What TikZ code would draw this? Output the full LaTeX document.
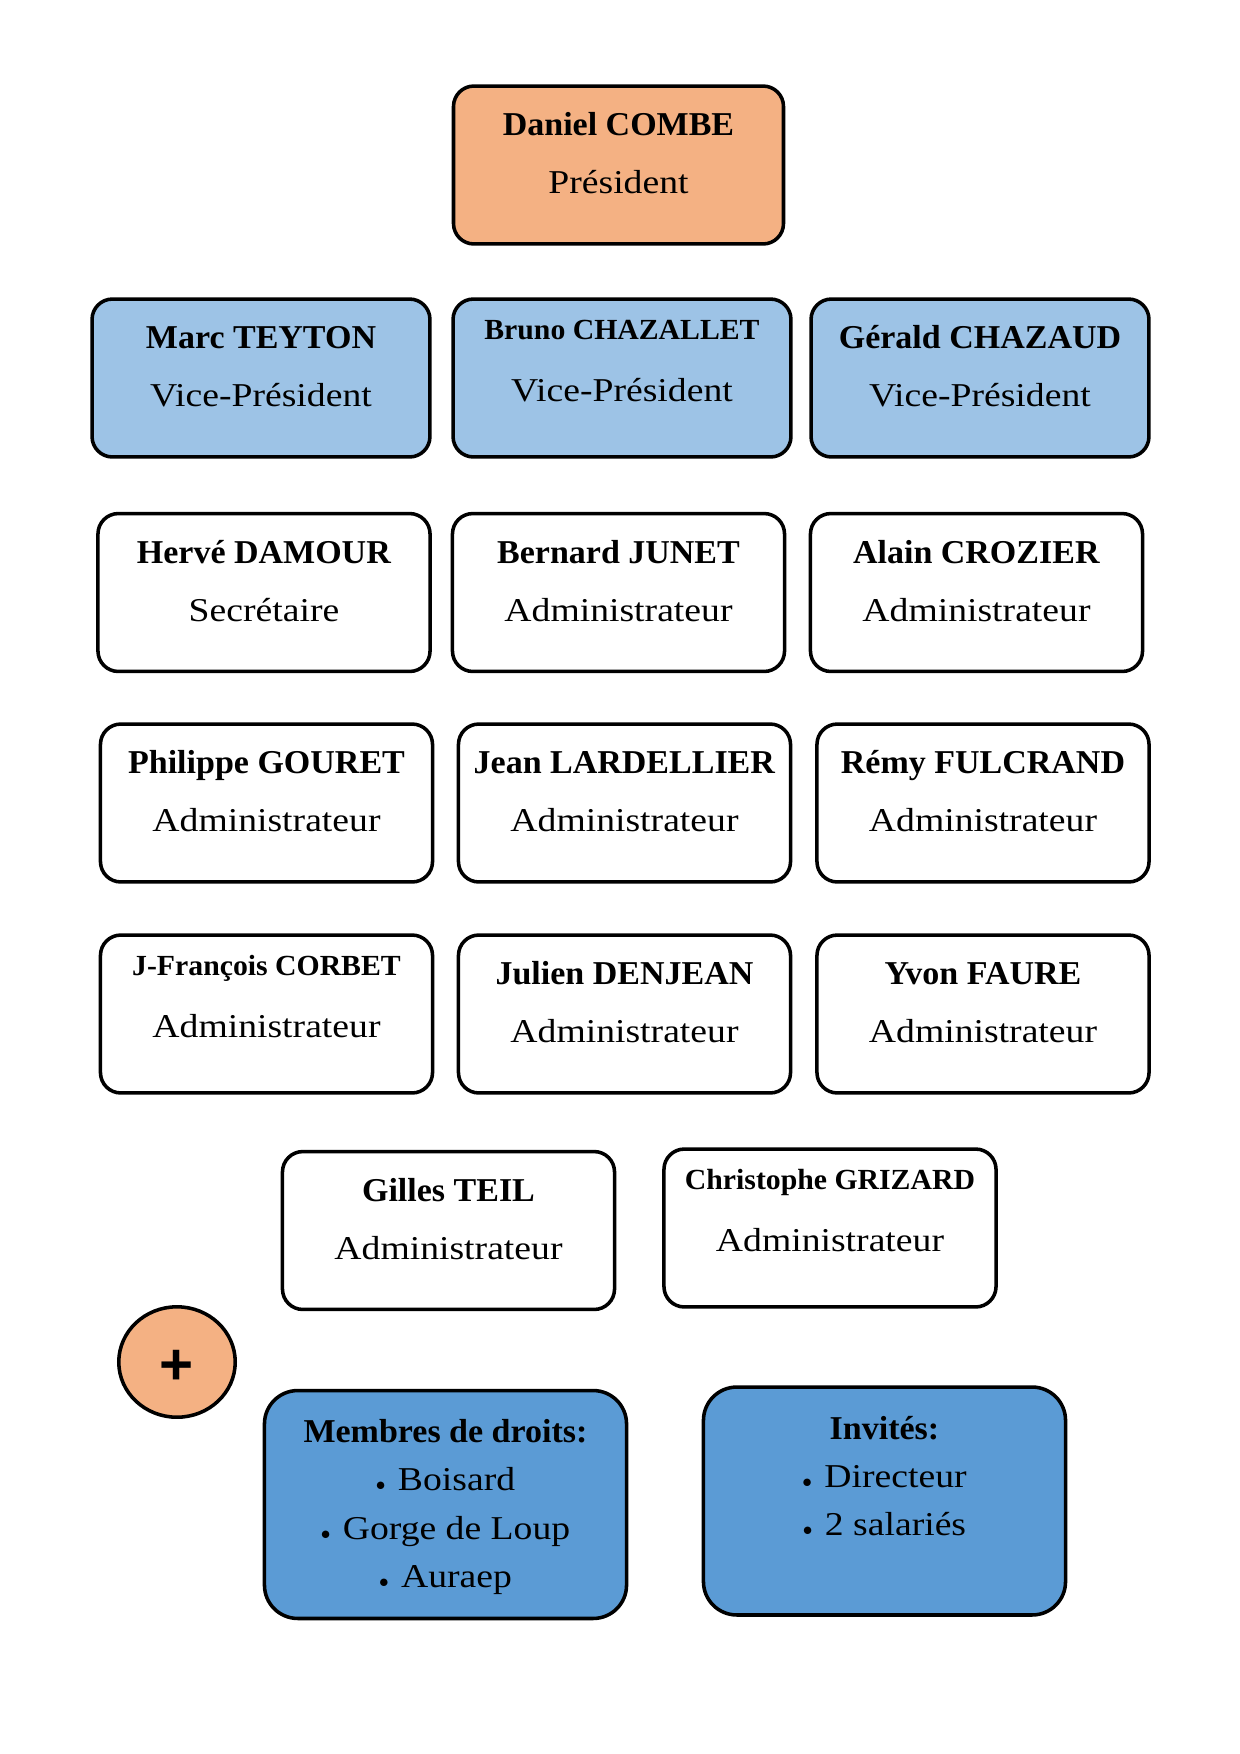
\documentclass[tikz,border=0pt]{standalone}
\usepackage{fontspec}
\setmainfont{Liberation Serif}[FakeStretch=1.13,BoldFeatures={FakeStretch=1.02}]
\newfontfamily\croix{Liberation Sans}
\usetikzlibrary{shapes.geometric}

\definecolor{orangeclair}{HTML}{F4B183}
\definecolor{bleuclair}{HTML}{9DC3E6}
\definecolor{bleumoyen}{HTML}{5B9BD5}

\tikzstyle{fiche} = [draw,line width=1.7pt,rounded corners=9.8pt,inner sep=0pt]
\tikzstyle{president} = [fiche,fill=orangeclair]
\tikzstyle{vice} = [fiche,fill=bleuclair]
\tikzstyle{admin} = [fiche,fill=white]
\tikzstyle{groupe} = [draw,line width=1.7pt,rounded corners=16pt,fill=bleumoyen,inner sep=0pt]
\tikzstyle{bouton} = [draw,line width=1.7pt,ellipse,fill=orangeclair,minimum width=55.9pt,minimum height=53pt,inner sep=0pt]

% carte : largeur, nom, fonction
\newcommand{\fiche}[3]{\parbox[c][75.8pt][t]{#1}{\centering\fontsize{16pt}{27.8pt}\selectfont
 \rule{0pt}{23.8pt}\textbf{#2}\par #3\par}}
\newcommand{\fichepetite}[3]{\parbox[c][75.8pt][t]{#1}{\centering
 {\fontsize{14pt}{17pt}\selectfont\rule{0pt}{19.4pt}\textbf{#2}\par}
 \fontsize{16pt}{29.8pt}\selectfont #3\par}}
\newcommand{\liste}[2]{\parbox[c][109.4pt][t]{173.8pt}{\centering\fontsize{16pt}{23.2pt}\selectfont
 \rule{0pt}{25pt}\textbf{#1}\par #2}}
\newcommand{\puce}{{\fontsize{9.5pt}{10pt}\selectfont$\bullet$}\hspace{6pt}}
\newcommand{\lp}{159.4pt}
\newcommand{\lv}{162.2pt}

\begin{document}
\begin{tikzpicture}[x=0.48pt,y=-0.48pt]
\useasboundingbox (0,0) rectangle (1240,1754);

 \node[president] (combe) at (618.5,165) {\fiche{158.4pt}{Daniel COMBE}{Pr\'esident}};

 \node[vice] (teyton) at (261,378) {\fiche{\lv}{Marc TEYTON}{Vice-Pr\'esident}};
 \node[vice] (chazallet) at (622,378) {\fichepetite{\lv}{Bruno CHAZALLET}{Vice-Pr\'esident}};
 \node[vice] (chazaud) at (980,378) {\fiche{\lv}{G\'erald CHAZAUD}{Vice-Pr\'esident}};

 \node[admin] (damour) at (264,592.5) {\fiche{\lp}{Herv\'e DAMOUR}{Secr\'etaire}};
 \node[admin] (junet) at (618.5,592.5) {\fiche{\lp}{Bernard JUNET}{Administrateur}};
 \node[admin] (crozier) at (976.5,592.5) {\fiche{\lp}{Alain CROZIER}{Administrateur}};

 \node[admin] (gouret) at (266.5,803) {\fiche{\lp}{Philippe GOURET}{Administrateur}};
 \node[admin] (lardellier) at (624.5,803) {\fiche{\lp}{Jean LARDELLIER}{Administrateur}};
 \node[admin] (fulcrand) at (983,803) {\fiche{\lp}{R\'emy FULCRAND}{Administrateur}};

 \node[admin] (corbet) at (266.5,1014) {\fichepetite{\lp}{J-Fran\c{c}ois CORBET}{Administrateur}};
 \node[admin] (denjean) at (624.5,1014) {\fiche{\lp}{Julien DENJEAN}{Administrateur}};
 \node[admin] (faure) at (983,1014) {\fiche{\lp}{Yvon FAURE}{Administrateur}};

 \node[admin] (teil) at (448.5,1230.5) {\fiche{\lp}{Gilles TEIL}{Administrateur}};
 \node[admin] (grizard) at (830,1228) {\fichepetite{\lp}{Christophe GRIZARD}{Administrateur}};

 \node[bouton] (plus) at (177,1362) {\raisebox{-2.4pt}[\height][\depth]{\croix\bfseries\fontsize{28pt}{28pt}\selectfont +}};

 \node[groupe] (droits) at (445.5,1504.5) {\liste{Membres de droits:}{\puce Boisard\par \puce Gorge de Loup\par \puce Auraep\par}};
 \node[groupe] (invites) at (884.5,1501) {\liste{Invit\'es:}{\puce Directeur\par \puce 2 salari\'es\par}};

\end{tikzpicture}
\end{document}
